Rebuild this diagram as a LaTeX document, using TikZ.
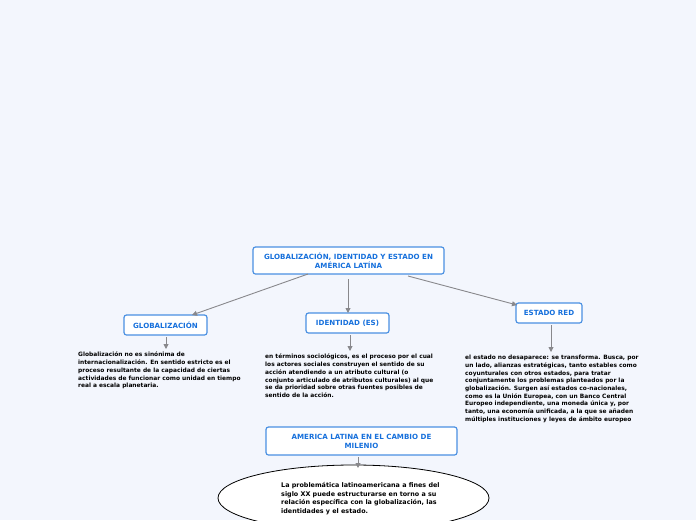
\documentclass[tikz,border=0pt]{standalone}
\usepackage{fontspec}
\setmainfont{DejaVu Sans}
\usetikzlibrary{shapes.geometric,arrows.meta}
\definecolor{bgc}{RGB}{243,246,253}
\definecolor{boxblue}{RGB}{74,144,226}
\definecolor{txtblue}{RGB}{22,112,220}
\definecolor{arrgray}{RGB}{136,136,140}
\tikzset{
  topic/.style={draw=boxblue, line width=1.2pt, fill=white, rounded corners=2.5pt,
    font=\fontsize{7.1}{9}\selectfont\bfseries, text=txtblue, align=center, inner sep=0pt},
  bodytext/.style={anchor=north west, inner sep=0pt, align=left,
    font=\fontsize{5.9}{7.7}\selectfont\bfseries, text=black},
  conn/.style={draw=arrgray, line width=0.9pt, -{Triangle[open, length=5pt, width=5pt, fill=arrgray]}},
}
\begin{document}
\begin{tikzpicture}[x=1pt,y=-1pt]
\fill[bgc] (0,0) rectangle (696,520);
\useasboundingbox (0,0) rectangle (696,520);

\node[topic, minimum width=191pt, minimum height=27pt] (main) at (348.5,260.5)
  {GLOBALIZACIÓN, IDENTIDAD Y ESTADO EN\\AMÉRICA LATÍNA};
\node[topic, minimum width=83pt, minimum height=20pt] (glob) at (165.5,325) {GLOBALIZACIÓN};
\node[topic, minimum width=83pt, minimum height=20pt] (iden) at (347.5,323) {IDENTIDAD (ES)};
\node[topic, minimum width=66pt, minimum height=20pt] (estado) at (549,313) {ESTADO RED};
\node[topic, minimum width=191pt, minimum height=28pt] (amer) at (361.5,441)
  {AMERICA LATINA EN EL CAMBIO DE\\MILENIO};

\node[draw=black, line width=0.8pt, fill=white, ellipse, minimum width=271pt, minimum height=66pt, inner sep=0pt] (ell) at (353.5,498) {};
\node[bodytext, font=\fontsize{6.4}{8.7}\selectfont\bfseries] (elltext) at (281,482)
  {La problemática latinoamericana a fines del\\
   siglo XX puede estructurarse en torno a su\\
   relación específica con la globalización, las\\
   identidades y el estado.};

\node[bodytext] (globtext) at (78,352)
  {Globalización no es sinónima de\\
   internacionalización. En sentido estricto es el\\
   proceso resultante de la capacidad de ciertas\\
   actividades de funcionar como unidad en tiempo\\
   real a escala planetaria.};
\node[bodytext] (identext) at (265,354)
  {en términos sociológicos, es el proceso por el cual\\
   los actores sociales construyen el sentido de su\\
   acción atendiendo a un atributo cultural (o\\
   conjunto articulado de atributos culturales) al que\\
   se da prioridad sobre otras fuentes posibles de\\
   sentido de la acción.};
\node[bodytext] (estatext) at (465,355)
  {el estado no desaparece: se transforma. Busca, por\\
   un lado, alianzas estratégicas, tanto estables como\\
   coyunturales con otros estados, para tratar\\
   conjuntamente los problemas planteados por la\\
   globalización. Surgen así estados co-nacionales,\\
   como es la Unión Europea, con un Banco Central\\
   Europeo independiente, una moneda única y, por\\
   tanto, una economía unificada, a la que se añaden\\
   múltiples instituciones y leyes de ámbito europeo};

\coordinate (m1) at (308,274);
\coordinate (m2) at (348,279);
\coordinate (m3) at (408,276);
\coordinate (g1) at (192,315);
\coordinate (i1) at (348,313);
\coordinate (e1) at (517,305);
\draw[conn] (m1) -- (g1);
\draw[conn] (m2) -- (i1);
\draw[conn] (m3) -- (e1);

\coordinate (ga) at (166,337);
\coordinate (gb) at (166,349);
\draw[conn] (ga) -- (gb);
\coordinate (ia) at (350,335);
\coordinate (ib) at (350,351);
\draw[conn] (ia) -- (ib);
\coordinate (ea) at (551,325);
\coordinate (eb) at (551,352);
\draw[conn] (ea) -- (eb);
\coordinate (aa) at (358,457);
\coordinate (ab) at (358,468);
\draw[conn] (aa) -- (ab);
\end{tikzpicture}
\end{document}
